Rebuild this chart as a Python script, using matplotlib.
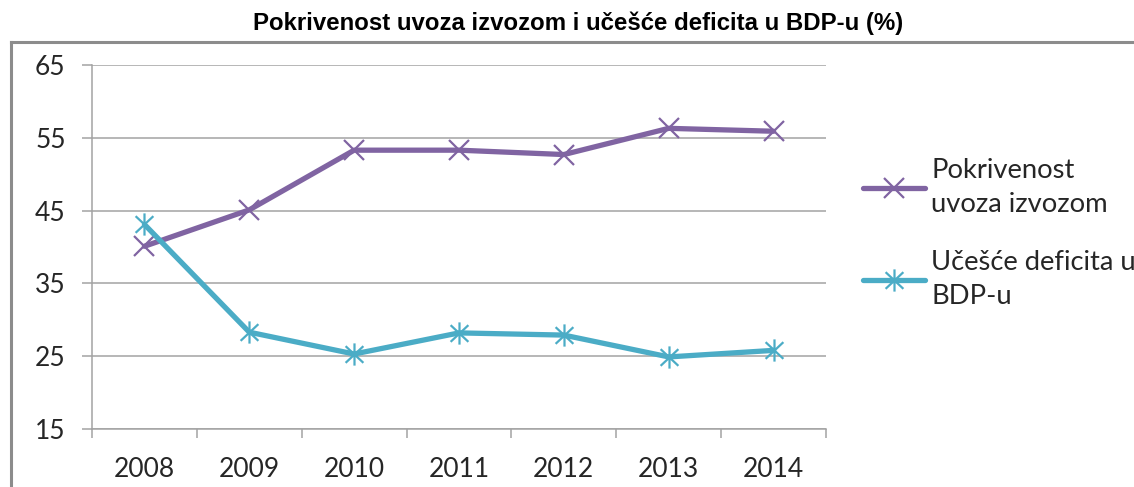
import matplotlib
matplotlib.use("Agg")
import matplotlib.pyplot as plt
from matplotlib.lines import Line2D
from matplotlib.path import Path

# ---- data ----
years = ["2008", "2009", "2010", "2011", "2012", "2013", "2014"]
pokrivenost = [40.1, 45.1, 53.3, 53.3, 52.7, 56.3, 55.9]
deficit = [43.1, 28.3, 25.3, 28.2, 27.9, 24.9, 25.8]

series_labels = ["Pokrivenost\nuvoza izvozom", "Učešće deficita u\nBDP-u"]
title = "Pokrivenost uvoza izvozom i učešće deficita u BDP-u (%)"

PURPLE = "#8064A2"
CYAN = "#4BACC6"
GRID = "#a3a3a3"
TXT = "#262626"
FONT = "Lato"

# asterisk marker (vertical bar + X), like Excel's "star"
M, L = Path.MOVETO, Path.LINETO
star = Path([(0, -1), (0, 1), (-0.8, -0.75), (0.8, 0.75), (-0.8, 0.75), (0.8, -0.75)],
            [M, L, M, L, M, L])

fig = plt.figure(figsize=(11.34, 4.87), dpi=100)
ax = fig.add_axes([92 / 1134, 1 - 429 / 487, (826 - 92) / 1134, (429 - 65) / 487])

x = list(range(len(years)))
ax.plot(x, pokrivenost, color=PURPLE, lw=3.8, marker="x", ms=15, mew=1.6,
        label=series_labels[0], solid_capstyle="round", zorder=3)
ax.plot(x, deficit, color=CYAN, lw=3.8, marker=star, ms=16, mew=1.6,
        label=series_labels[1], solid_capstyle="round", zorder=4)

ax.set_xlim(-0.5, len(years) - 0.5)
ax.set_ylim(15, 65)
ax.set_yticks(range(15, 66, 10))
ax.set_xticks(x)
ax.set_xticklabels(years)
ax.set_xticks([i - 0.5 for i in range(len(years) + 1)], minor=True)

ax.grid(axis="y", color=GRID, lw=1.1, zorder=0)
ax.set_axisbelow(True)
for s in ("top", "right"):
    ax.spines[s].set_visible(False)
for s in ("left", "bottom"):
    ax.spines[s].set_color(GRID)
    ax.spines[s].set_linewidth(1.1)

ax.tick_params(axis="x", which="major", length=0, pad=20, labelsize=19, labelcolor=TXT)
ax.tick_params(axis="x", which="minor", length=6.5, width=1.1, color=GRID, direction="out")
ax.tick_params(axis="y", length=7, width=1.1, color=GRID, pad=12, labelsize=19, labelcolor=TXT)
for lab in ax.get_xticklabels() + ax.get_yticklabels():
    lab.set_fontfamily(FONT)

fig.text(578 / 1134, 1 - 23 / 487, title, ha="center", va="center", fontsize=17.3,
         fontweight="bold", family="Liberation Sans", color="black")

# chart-area border (top and left edges visible)
fig.add_artist(Line2D([11 / 1134, 1.0], [1 - 42 / 487, 1 - 42 / 487], color="#8c8c8c", lw=2.2))
fig.add_artist(Line2D([11 / 1134, 11 / 1134], [0, 1 - 42 / 487], color="#8c8c8c", lw=2.2))

leg = fig.legend(loc="upper left", bbox_to_anchor=(863 / 1134, 1 - 158 / 487),
                 frameon=False, prop={"family": FONT, "size": 19.7},
                 handlelength=2.25, handletextpad=0.25, labelspacing=1.2,
                 borderpad=0, borderaxespad=0, labelcolor=TXT)
for t in leg.get_texts():
    t.set_linespacing(1.45)

fig.savefig("out.png", dpi=100)
